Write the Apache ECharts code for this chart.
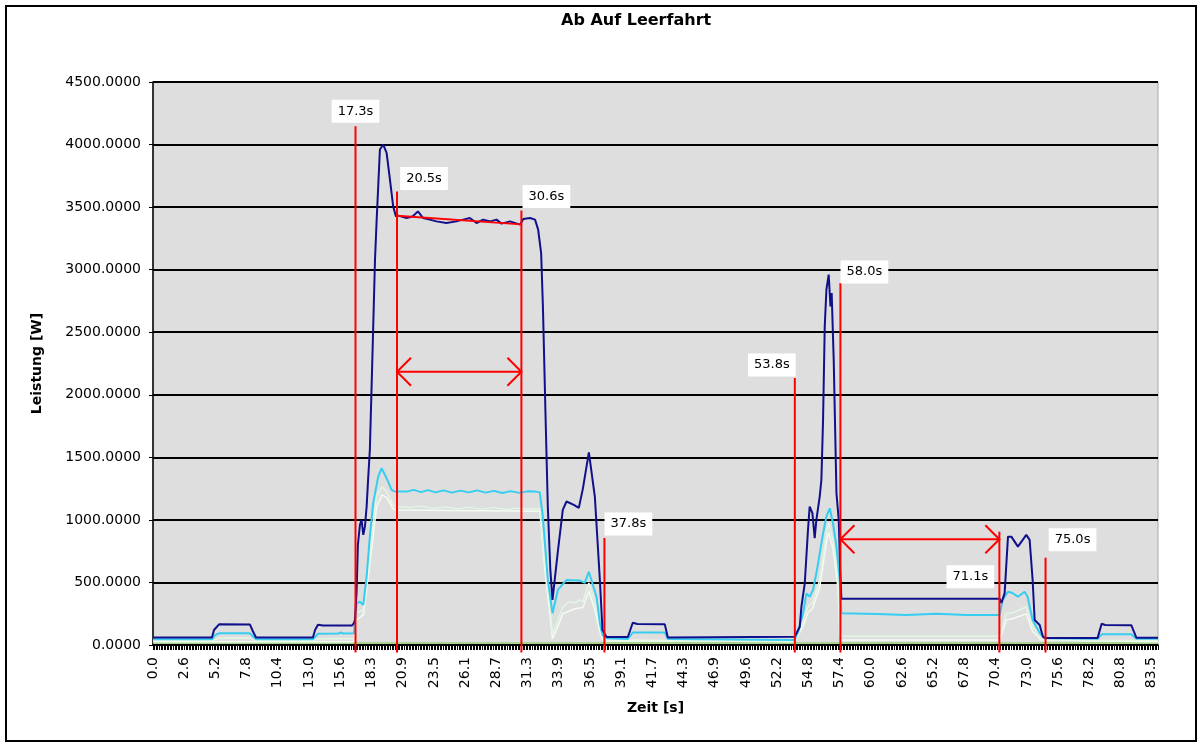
<!DOCTYPE html>
<html><head><meta charset="utf-8">
<script src="https://cdn.jsdelivr.net/npm/echarts@6/dist/echarts.min.js"></script>
<style>html,body{margin:0;padding:0;background:#fff}#c{width:1202px;height:747px}</style>
</head><body><div id="c"></div>
<script>
// ---------- text ----------
const chartTitle = 'Ab Auf Leerfahrt';
const xName = 'Zeit [s]';
const yName = 'Leistung [W]';
const xTickLabels = ['0.0','2.6','5.2','7.8','10.4','13.0','15.6','18.3','20.9','23.5','26.1','28.7','31.3','33.9','36.5','39.1','41.7','44.3','46.9','49.6','52.2','54.8','57.4','60.0','62.6','65.2','67.8','70.4','73.0','75.6','78.2','80.8','83.5'];
const sampleStep = 83.5 / 640;   // seconds per sample (tick)
const sampleCount = 644;         // samples shown on the axis
const samplesPerLabel = 20;

// ---------- series [time s, power W] ----------
const navy = [[0,60],[4.93,60],[5.1,120],[5.52,165],[8.11,163],[8.35,110],[8.61,60],[13.37,60],[13.55,120],[13.79,162],[14.21,155],[16.63,155],[16.8,175],[16.88,200],[17.02,420],[17.13,800],[17.3,960],[17.44,1000],[17.58,880],[17.72,946],[17.86,1106],[17.97,1300],[18.13,1560],[18.3,2150],[18.56,3080],[18.7,3400],[18.83,3666],[18.97,3960],[19.25,4000],[19.53,3933],[19.81,3720],[20.08,3506],[20.31,3426],[20.5,3432],[21.2,3413],[21.7,3425],[22.15,3466],[22.58,3413],[23.14,3400],[23.7,3386],[24.53,3373],[25.37,3386],[25.93,3400],[26.49,3413],[27.05,3373],[27.6,3400],[28.2,3386],[28.72,3400],[29.14,3368],[29.85,3386],[30.69,3360],[30.96,3405],[31.52,3413],[31.94,3400],[32.2,3320],[32.45,3133],[32.6,2700],[32.8,1900],[33.01,1100],[33.22,600],[33.4,360],[33.85,750],[34.26,1080],[34.57,1147],[35.18,1120],[35.6,1096],[35.94,1250],[36.44,1540],[36.94,1186],[37.36,520],[37.58,120],[37.92,64],[39.7,64],[40.11,178],[40.5,168],[42.79,165],[43.04,60],[53.65,66],[54.07,146],[54.21,306],[54.49,493],[54.76,920],[54.9,1106],[55.13,1054],[55.32,853],[55.46,1000],[55.74,1186],[55.88,1320],[56.02,1800],[56.16,2546],[56.3,2840],[56.49,2960],[56.64,2706],[56.74,2814],[56.91,2280],[57.14,1214],[57.33,1000],[57.45,600],[57.55,370],[70.78,370],[70.93,336],[71.2,415],[71.48,866],[71.76,866],[72.31,786],[73.01,880],[73.29,840],[73.54,520],[73.71,200],[74.13,160],[74.4,66],[74.6,55],[78.97,55],[79.31,170],[79.6,160],[81.79,158],[82.21,58],[84.02,58]];
const cyan = [[0,45],[4.93,45],[5.2,80],[5.52,93],[8.11,93],[8.35,70],[8.61,45],[13.37,45],[13.79,90],[15.5,92],[15.7,100],[15.9,92],[16.8,93],[16.88,95],[17.02,335],[17.3,346],[17.58,320],[17.86,546],[18.13,866],[18.41,1136],[18.83,1346],[19.11,1413],[19.53,1333],[19.95,1240],[20.22,1226],[21.2,1226],[21.8,1240],[22.4,1222],[23.0,1238],[23.6,1220],[24.3,1236],[25.0,1218],[25.7,1234],[26.4,1220],[27.1,1236],[27.8,1218],[28.5,1232],[29.2,1215],[29.9,1230],[30.6,1216],[31.3,1228],[32.0,1226],[32.34,1220],[32.59,1026],[33.01,520],[33.4,253],[33.85,440],[34.57,520],[35.68,515],[36.1,496],[36.44,586],[37.08,386],[37.36,176],[37.58,80],[37.92,53],[39.7,48],[40.11,100],[42.79,100],[43.04,48],[53.65,40],[53.93,106],[54.35,253],[54.63,413],[54.9,386],[55.18,440],[55.46,573],[55.74,733],[56.02,893],[56.3,1026],[56.58,1093],[56.85,973],[57.14,786],[57.41,520],[57.55,253],[57.69,240],[60.5,248],[63.0,240],[65.5,250],[68.0,240],[70.78,240],[71.03,360],[71.48,426],[71.87,415],[72.31,386],[72.87,426],[73.12,386],[73.54,200],[74.13,96],[74.54,53],[78.97,50],[79.31,85],[81.79,85],[82.21,50],[84.02,50]];
const pale = [[0,35],[4.93,35],[5.52,55],[8.11,55],[8.61,35],[13.37,35],[13.79,50],[16.8,50],[17.02,256],[17.58,280],[18.13,760],[18.69,1186],[19.14,1266],[19.53,1226],[20.06,1120],[20.39,1106],[21.5,1100],[22.5,1110],[23.5,1092],[24.5,1104],[25.5,1088],[26.5,1100],[27.5,1086],[28.5,1098],[29.5,1084],[30.5,1094],[31.5,1086],[32.34,1090],[32.76,656],[33.4,90],[33.85,200],[34.26,306],[34.85,346],[35.27,336],[35.68,360],[35.94,346],[36.44,496],[36.94,336],[37.36,146],[37.58,66],[37.9,30],[53.65,30],[54.07,100],[54.35,200],[54.76,306],[55.13,336],[55.74,520],[56.3,893],[56.49,973],[56.85,840],[57.28,520],[57.41,146],[57.55,70],[70.78,70],[70.93,96],[71.34,256],[71.87,256],[73.01,306],[73.54,146],[74.27,66],[74.6,35],[84.02,35]];
const paleLow = [[0,25],[16.8,25],[17.02,200],[17.58,240],[18.13,650],[18.69,1100],[19.14,1200],[19.53,1180],[20.06,1090],[20.39,1080],[25,1075],[32.34,1070],[32.76,600],[33.4,50],[33.85,150],[34.26,250],[35.27,290],[35.94,300],[36.44,430],[36.94,280],[37.36,110],[37.58,40],[53.65,25],[54.35,150],[54.76,260],[55.13,290],[55.74,460],[56.3,820],[56.49,900],[56.85,770],[57.28,450],[57.41,100],[57.55,40],[70.78,40],[71.34,200],[71.87,210],[73.01,250],[73.54,110],[74.27,40],[84.02,25]];
const green = [[0,15],[84.02,15]];

// ---------- annotations ----------
const markerTexts = ['17.3s','20.5s','30.6s','37.8s','53.8s','58.0s','71.1s','75.0s'];
const markerTimes = [16.93, 20.40, 30.80, 37.74, 53.66, 57.47, 70.76, 74.62];
const markerTops  = [4146, 3624, 3472, 856, 2134, 2894, 906, 698];
const arrowSpans  = [[20.40, 30.80, 2184], [57.47, 70.76, 845]];
const trendLine   = [[20.40, 3430], [30.80, 3362]];

// layout (pixel offsets of label boxes from the top of each marker line)
const markerLabelOffsets = [[0,-15],[27,-13],[25,-14],[24,-14],[-23,-13],[24,-11],[-29,45],[27,-18]];
const markerBottom = -60;

const font = 'DejaVu Sans';
const chart = echarts.init(document.getElementById('c'), null, {renderer: 'canvas'});

function lineSeries(name, data, color, width, z) {
  return {name, type: 'line', data, symbol: 'none', z, lineStyle: {color, width}, itemStyle: {color}, animation: false};
}

chart.setOption({
  animation: false,
  backgroundColor: '#fff',
  title: {text: chartTitle, left: 556, top: 8, textStyle: {fontFamily: font, fontWeight: 'bold', fontSize: 16, color: '#000'}},
  grid: {left: 153, right: 44, top: 82, bottom: 102, show: true, backgroundColor: '#DEDEDE', borderColor: '#A8A8A8', borderWidth: 1},
  xAxis: {
    type: 'value', min: 0, max: sampleCount * sampleStep, interval: sampleStep,
    name: xName, nameLocation: 'middle', nameGap: 56,
    nameTextStyle: {fontFamily: font, fontWeight: 'bold', fontSize: 14, color: '#000'},
    axisLine: {onZero: false, lineStyle: {color: '#000', width: 1.5}},
    axisTick: {length: 5, lineStyle: {color: '#000', width: 1}},
    splitLine: {show: false},
    axisLabel: {
      rotate: 90, margin: 12, fontFamily: font, fontSize: 14, color: '#000',
      formatter: v => {
        const k = Math.round(v / sampleStep);
        if (Math.abs(v / sampleStep - k) > 1e-3 || k % samplesPerLabel !== 0) return '';
        return xTickLabels[k / samplesPerLabel] || '';
      }
    }
  },
  yAxis: {
    type: 'value', min: 0, max: 4500, interval: 500,
    name: yName, nameLocation: 'middle', nameGap: 109, nameRotate: 90,
    nameTextStyle: {fontFamily: font, fontWeight: 'bold', fontSize: 14, color: '#000'},
    axisLine: {show: true, lineStyle: {color: '#000', width: 1.5}},
    axisTick: {show: true, length: 4, lineStyle: {color: '#000'}},
    splitLine: {show: true, lineStyle: {color: '#000', width: 2}},
    axisLabel: {margin: 12, fontFamily: font, fontSize: 14, color: '#000', formatter: v => v.toFixed(4)}
  },
  graphic: [{type: 'rect', silent: true, z: 100, shape: {x: 6, y: 6, width: 1190, height: 735}, style: {fill: null, stroke: '#000', lineWidth: 2}}],
  series: [
    lineSeries('green', green, '#9ACD78', 1.5, 2),
    lineSeries('paleLow', paleLow, '#F4FCF2', 1.5, 3),
    lineSeries('pale', pale, '#E2F6E4', 1.5, 4),
    lineSeries('cyan', cyan, '#36CDF0', 2, 5),
    lineSeries('navy', navy, '#10108C', 2, 6),
    lineSeries('trend', trendLine, '#FF0000', 2, 7),
    {
      type: 'custom', z: 8, clip: false, animation: false,
      data: arrowSpans, encode: {x: [0, 1], y: 2},
      renderItem: (params, api) => {
        const a = api.coord([api.value(0), api.value(2)]);
        const b = api.coord([api.value(1), api.value(2)]);
        const st = {stroke: '#FF0000', lineWidth: 2, fill: null};
        return {type: 'group', children: [
          {type: 'line', shape: {x1: a[0], y1: a[1], x2: b[0], y2: b[1]}, style: st},
          {type: 'polyline', shape: {points: [[a[0] + 14, a[1] - 14], a, [a[0] + 14, a[1] + 14]]}, style: st},
          {type: 'polyline', shape: {points: [[b[0] - 14, b[1] - 14], b, [b[0] - 14, b[1] + 14]]}, style: st}
        ]};
      }
    },
    {
      type: 'custom', z: 9, clip: false, animation: false,
      data: markerTimes.map((t, i) => [t, markerTops[i]]), encode: {x: 0, y: 1},
      renderItem: (params, api) => {
        const i = params.dataIndex;
        const top = api.coord([api.value(0), api.value(1)]);
        const bot = api.coord([api.value(0), markerBottom]);
        const off = markerLabelOffsets[i];
        return {type: 'group', children: [
          {type: 'line', shape: {x1: top[0], y1: top[1], x2: bot[0], y2: bot[1]}, style: {stroke: '#FF0000', lineWidth: 2}},
          {type: 'text', x: top[0] + off[0], y: top[1] + off[1], z2: 10,
           style: {text: markerTexts[i], fill: '#000', font: '13px "DejaVu Sans"', align: 'center', verticalAlign: 'middle', backgroundColor: '#fff', padding: [5, 6]}}
        ]};
      }
    }
  ]
});
</script></body></html>
